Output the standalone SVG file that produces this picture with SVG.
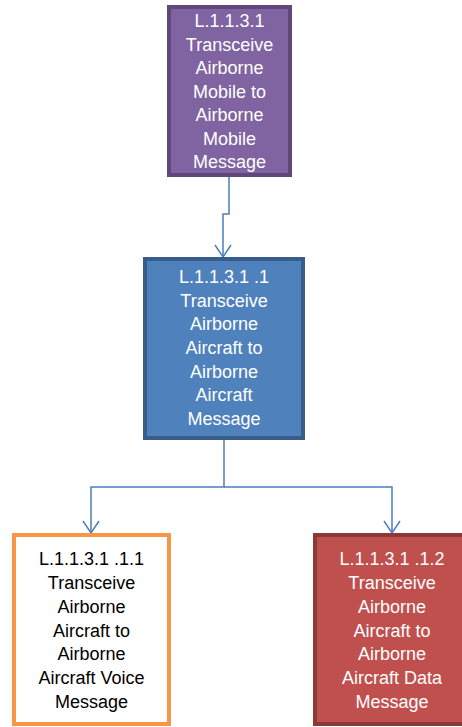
<svg xmlns="http://www.w3.org/2000/svg" width="462" height="727" viewBox="0 0 462 727">
<defs>
<style>
.t{font-family:"Liberation Sans",Arial,sans-serif;font-size:18px;text-anchor:middle}
.w{fill:#ffffff}
.k{fill:#000000}
.c{fill:none;stroke:#4a7ebb;stroke-width:1.5}
</style>
</defs>
<rect width="462" height="727" fill="#ffffff"/>
<g id="connectors">
<path class="c" d="M229,177 V214 H223 V257"/>
<path class="c" d="M215,245 L223,257 L231,245"/>
<path class="c" d="M224,440 V487 H91 V533"/>
<path class="c" d="M224,487 H392 V533"/>
<path class="c" d="M83,521 L91,533 L99,521"/>
<path class="c" d="M384,521 L392,533 L400,521"/>
</g>
<g id="n1">
<rect x="169" y="7" width="121" height="168" fill="#8064a2" stroke="#5f497a" stroke-width="4"/>
<text class="t w" x="229.5" y="27">L.1.1.3.1</text>
<text class="t w" x="229.5" y="50.5">Transceive</text>
<text class="t w" x="229.5" y="74">Airborne</text>
<text class="t w" x="229.5" y="97.5">Mobile to</text>
<text class="t w" x="229.5" y="121">Airborne</text>
<text class="t w" x="229.5" y="144.5">Mobile</text>
<text class="t w" x="229.5" y="168">Message</text>
</g>
<g id="n2">
<rect x="145" y="259" width="158" height="179" fill="#4f81bd" stroke="#385d8a" stroke-width="4"/>
<text class="t w" x="224" y="283">L.1.1.3.1 .1</text>
<text class="t w" x="224" y="306.7">Transceive</text>
<text class="t w" x="224" y="330.3">Airborne</text>
<text class="t w" x="224" y="354">Aircraft to</text>
<text class="t w" x="224" y="377.7">Airborne</text>
<text class="t w" x="224" y="401.3">Aircraft</text>
<text class="t w" x="224" y="425">Message</text>
</g>
<g id="n3">
<rect x="14" y="535" width="155" height="189" fill="#ffffff" stroke="#f79646" stroke-width="4"/>
<text class="t k" x="91.5" y="565">L.1.1.3.1 .1.1</text>
<text class="t k" x="91.5" y="588.8">Transceive</text>
<text class="t k" x="91.5" y="612.7">Airborne</text>
<text class="t k" x="91.5" y="636.5">Aircraft to</text>
<text class="t k" x="91.5" y="660.3">Airborne</text>
<text class="t k" x="91.5" y="684.2">Aircraft Voice</text>
<text class="t k" x="91.5" y="708">Message</text>
</g>
<g id="n4">
<rect x="315" y="535" width="155" height="189" fill="#c0504d" stroke="#8c3836" stroke-width="4"/>
<text class="t w" x="392" y="565">L.1.1.3.1 .1.2</text>
<text class="t w" x="392" y="588.8">Transceive</text>
<text class="t w" x="392" y="612.7">Airborne</text>
<text class="t w" x="392" y="636.5">Aircraft to</text>
<text class="t w" x="392" y="660.3">Airborne</text>
<text class="t w" x="392" y="684.2">Aircraft Data</text>
<text class="t w" x="392" y="708">Message</text>
</g>
</svg>
